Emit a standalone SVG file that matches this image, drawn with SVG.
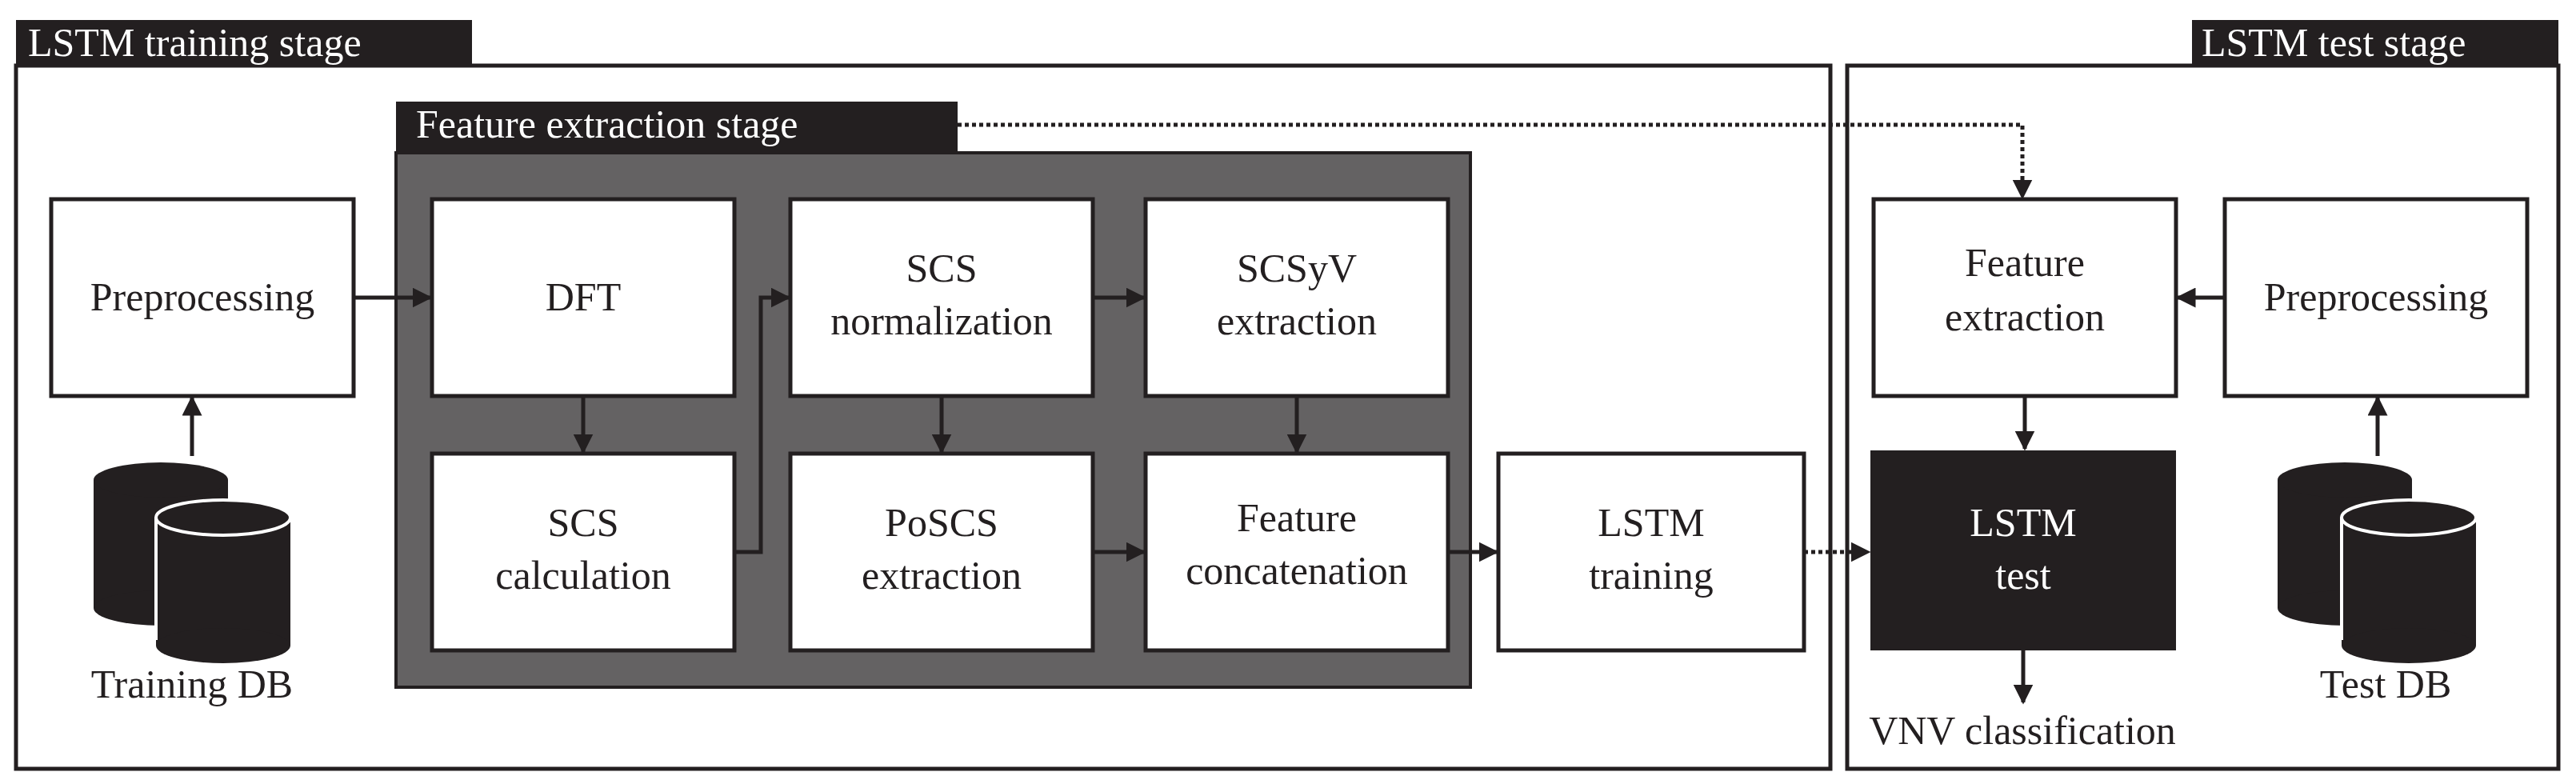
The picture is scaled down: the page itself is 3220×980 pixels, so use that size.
<svg xmlns="http://www.w3.org/2000/svg" width="3220" height="980" viewBox="0 0 3220 980">
<style>
.b{fill:#fff;stroke:#231f20;stroke-width:5}
.t{font-family:"Liberation Serif",serif;font-size:50px;fill:#231f20;text-anchor:middle}
.w{fill:#fff}
.c{stroke:#231f20;stroke-width:5;fill:none}
.d{stroke:#231f20;stroke-width:5;fill:none;stroke-dasharray:5 4}
.h{font-family:"Liberation Serif",serif;font-size:50px;fill:#fff}
</style>
<defs>
<marker id="a" markerWidth="5" markerHeight="5" refX="4.5" refY="2.5" orient="auto" markerUnits="strokeWidth" viewBox="0 0 5 5"><path d="M0,0L5,2.5L0,5z" fill="#231f20"/></marker>
<g id="db"><rect x="-84" y="0" width="168" height="160" fill="#231f20"/><ellipse cx="0" cy="0" rx="84" ry="22" fill="#231f20"/><ellipse cx="0" cy="160" rx="84" ry="22" fill="#231f20"/></g>
</defs>
<g id="training-stage"><rect x="20" y="82" width="2268" height="879" fill="none" stroke="#231f20" stroke-width="5"/><rect x="20" y="25" width="570" height="57" fill="#231f20"/><text class="h" x="35" y="70">LSTM training stage</text></g>
<g id="test-stage"><rect x="2309" y="82" width="889" height="879" fill="none" stroke="#231f20" stroke-width="5"/><rect x="2740" y="25" width="458" height="57" fill="#231f20"/><text class="h" x="2752" y="70">LSTM test stage</text></g>
<g id="feature-stage"><rect x="495" y="191" width="1343" height="668" fill="#646263" stroke="#231f20" stroke-width="4"/><rect x="495" y="127" width="702" height="64" fill="#231f20"/><text class="h" x="520" y="172">Feature extraction stage</text></g>
<g id="preprocessing"><rect class="b" x="64" y="249" width="378" height="246"/><text class="t" x="253" y="388">Preprocessing</text></g>
<g id="dft"><rect class="b" x="540" y="249" width="378" height="246"/><text class="t" x="729" y="388">DFT</text></g>
<g id="scs-norm"><rect class="b" x="988" y="249" width="378" height="246"/><text class="t" x="1177" y="352">SCS</text><text class="t" x="1177" y="418">normalization</text></g>
<g id="scsyv"><rect class="b" x="1432" y="249" width="378" height="246"/><text class="t" x="1621" y="352">SCSyV</text><text class="t" x="1621" y="418">extraction</text></g>
<g id="scs-calc"><rect class="b" x="540" y="567" width="378" height="246"/><text class="t" x="729" y="670">SCS</text><text class="t" x="729" y="736">calculation</text></g>
<g id="poscs"><rect class="b" x="988" y="567" width="378" height="246"/><text class="t" x="1177" y="670">PoSCS</text><text class="t" x="1177" y="736">extraction</text></g>
<g id="concat"><rect class="b" x="1432" y="567" width="378" height="246"/><text class="t" x="1621" y="664">Feature</text><text class="t" x="1621" y="730">concatenation</text></g>
<g id="lstm-training"><rect class="b" x="1873" y="567" width="382" height="246"/><text class="t" x="2064" y="670">LSTM</text><text class="t" x="2064" y="736">training</text></g>
<g id="feature-extraction"><rect class="b" x="2342" y="249" width="378" height="246"/><text class="t" x="2531" y="345">Feature</text><text class="t" x="2531" y="413">extraction</text></g>
<g id="preprocessing-test"><rect class="b" x="2781" y="249" width="378" height="246"/><text class="t" x="2970" y="388">Preprocessing</text></g>
<g id="lstm-test"><rect x="2338" y="563" width="382" height="250" fill="#231f20"/><text class="t w" x="2529" y="670" style="fill:#fff">LSTM</text><text class="t" x="2529" y="736" style="fill:#fff">test</text></g>
<g id="training-db"><use href="#db" x="201" y="600"/><use href="#db" x="279" y="647"/><ellipse cx="279" cy="647" rx="84" ry="22" fill="#231f20" stroke="#fff" stroke-width="4"/><path d="M195,647V800" stroke="#fff" stroke-width="4"/><text class="t" x="240" y="872">Training DB</text></g>
<g id="test-db"><use href="#db" x="2931" y="600"/><use href="#db" x="3011" y="647"/><ellipse cx="3011" cy="647" rx="84" ry="22" fill="#231f20" stroke="#fff" stroke-width="4"/><path d="M2927,647V800" stroke="#fff" stroke-width="4"/><text class="t" x="2982" y="872">Test DB</text></g>
<g id="vnv"><text class="t" x="2528" y="930">VNV classification</text></g>
<g id="connectors">
<path class="c" d="M442,372H538" marker-end="url(#a)"/>
<path class="c" d="M729,495V565" marker-end="url(#a)"/>
<path class="c" d="M918,690H951V372H986" marker-end="url(#a)"/>
<path class="c" d="M1366,372H1430" marker-end="url(#a)"/>
<path class="c" d="M1177,495V565" marker-end="url(#a)"/>
<path class="c" d="M1621,495V565" marker-end="url(#a)"/>
<path class="c" d="M1366,690H1430" marker-end="url(#a)"/>
<path class="c" d="M1810,690H1871" marker-end="url(#a)"/>
<path class="d" d="M2255,690H2336" marker-end="url(#a)"/>
<path class="d" d="M1197,156H2528V247" marker-end="url(#a)"/>
<path class="c" d="M2531,495V561" marker-end="url(#a)"/>
<path class="c" d="M2781,372H2722" marker-end="url(#a)"/>
<path class="c" d="M2972,570V497" marker-end="url(#a)"/>
<path class="c" d="M240,570V497" marker-end="url(#a)"/>
<path class="c" d="M2529,813V878" marker-end="url(#a)"/>
</g>
</svg>
